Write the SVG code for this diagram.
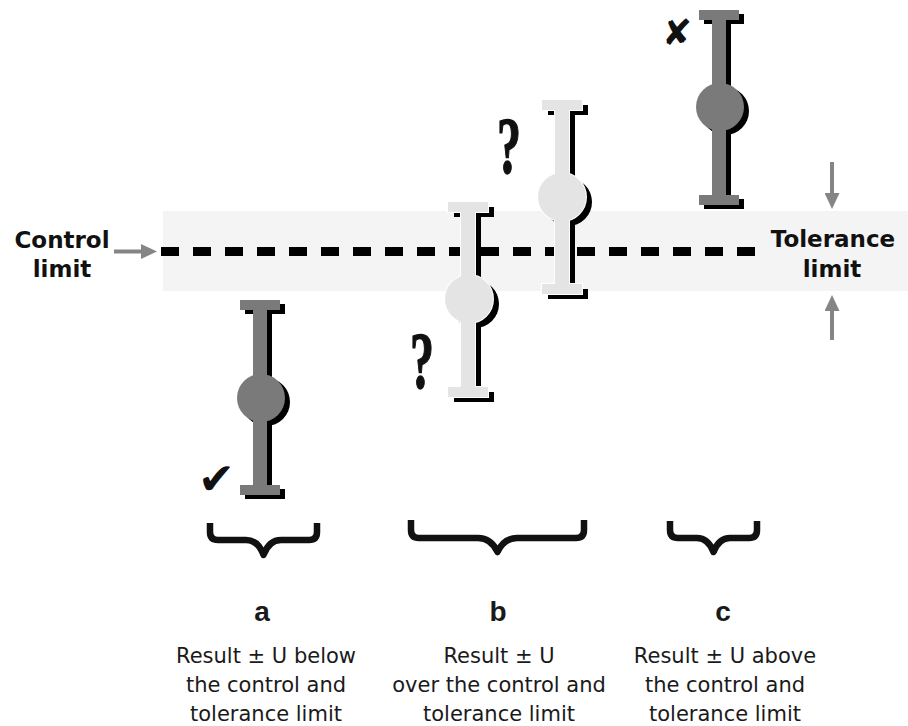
<svg xmlns="http://www.w3.org/2000/svg" xmlns:xlink="http://www.w3.org/1999/xlink" width="908" height="726" viewBox="0 0 908 726">
<style>
  .shadow { fill: #000; }
  .halo { fill: #fff; stroke: #fff; stroke-width: 2; }
  .dark { fill: #7a7a7a; }
  .light { fill: #e4e4e4; }
  .lbl { font-family: "DejaVu Sans", "Liberation Sans", sans-serif; font-weight: bold; font-size: 23px; fill: #111; text-anchor: middle; }
  .desc { font-family: "DejaVu Sans", "Liberation Sans", sans-serif; font-size: 21px; fill: #1a1a1a; text-anchor: middle; }
  .letter { font-family: "Liberation Sans", Arial, sans-serif; font-weight: bold; font-size: 28px; fill: #1a1a1a; text-anchor: middle; }
  .q { font-family: "Liberation Serif", "DejaVu Serif", serif; font-weight: bold; font-size: 80px; fill: #111; stroke: #111; stroke-width: 1.5; }
  .sym { font-family: "DejaVu Sans", sans-serif; fill: #111; }
  .arrow { stroke: #858585; stroke-width: 4; fill: none; marker-end: url(#ah); }
  .brace { stroke: #111; stroke-width: 6.5; fill: none; stroke-linejoin: round; }
</style>
<defs>
  <marker id="ah" markerUnits="userSpaceOnUse" viewBox="0 0 16 15" refX="6" refY="7.5" markerWidth="16" markerHeight="15" orient="auto">
    <path d="M0,0 L16,7.5 L0,15 z" fill="#858585"/>
  </marker>
  <g id="shapeA">
    <path d="M240,300 h40 v10 h-13 V485 h13 v10 h-40 v-10 h13 V310 h-13 z"/>
    <circle cx="261" cy="398" r="24"/>
  </g>
  <g id="shapeB1">
    <path d="M448,202 h40 v10 h-13 V387 h13 v10 h-40 v-10 h13 V212 h-13 z"/>
    <circle cx="469" cy="299" r="24"/>
  </g>
  <g id="shapeB2">
    <path d="M542,100 h40 v10 h-13 V284 h13 v10 h-40 v-10 h13 V110 h-13 z"/>
    <circle cx="562" cy="197" r="24"/>
  </g>
  <g id="shapeC">
    <path d="M699,10 h40 v10 h-13 V195 h13 v10 h-40 v-10 h13 V20 h-13 z"/>
    <circle cx="720" cy="107" r="24"/>
  </g>
</defs>

<rect width="908" height="726" fill="#fff"/>

<g id="band">
  <rect x="163" y="211" width="745" height="80" fill="#f4f4f4"/>
  <line x1="161" y1="251.5" x2="755" y2="251.5" stroke="#000" stroke-width="9" stroke-dasharray="18 14"/>
</g>

<g id="connectors">
  <line class="arrow" x1="114" y1="251.5" x2="147" y2="251.5"/>
  <line class="arrow" x1="832" y1="162" x2="832" y2="199"/>
  <line class="arrow" x1="832" y1="340" x2="832" y2="305"/>
</g>

<g id="control-limit">
  <text class="lbl" x="62" y="248">Control</text>
  <text class="lbl" x="62" y="277">limit</text>
</g>

<g id="tolerance-limit">
  <text class="lbl" x="833" y="247">Tolerance</text>
  <text class="lbl" x="832" y="277">limit</text>
</g>

<g id="bar-a">
  <use xlink:href="#shapeA" class="shadow" transform="translate(5,4)"/>
  <use xlink:href="#shapeA" class="dark"/>
  <text class="sym" x="198" y="494" font-size="44">✔</text>
</g>

<g id="bar-b1">
  <use xlink:href="#shapeB1" class="shadow" transform="translate(6,5)"/>
  <use xlink:href="#shapeB1" class="halo"/>
  <use xlink:href="#shapeB1" class="light"/>
  <text class="q" transform="translate(410,388) scale(0.6,1)">?</text>
</g>

<g id="bar-b2">
  <use xlink:href="#shapeB2" class="shadow" transform="translate(6,5)"/>
  <use xlink:href="#shapeB2" class="halo"/>
  <use xlink:href="#shapeB2" class="light"/>
  <text class="q" transform="translate(497,173) scale(0.6,1)">?</text>
</g>

<g id="bar-c">
  <use xlink:href="#shapeC" class="shadow" transform="translate(5,4)"/>
  <use xlink:href="#shapeC" class="dark"/>
  <text class="sym" x="662" y="45" font-size="36">✘</text>
</g>

<g id="group-a">
  <path class="brace" d="M210,523 V532 Q210,540 218,540 H246 Q258,540 263.5,555 Q269,540 281,540 H309 Q317,540 317,532 V523"/>
  <text class="letter" x="262" y="621">a</text>
  <text class="desc" x="266" y="663">Result ± U below</text>
  <text class="desc" x="266" y="692">the control and</text>
  <text class="desc" x="266" y="721">tolerance limit</text>
</g>

<g id="group-b">
  <path class="brace" d="M411,520 V530 Q411,538 419,538 H478 Q491,538 497.5,552 Q504,538 517,538 H576 Q584,538 584,530 V520"/>
  <text class="letter" x="498" y="621">b</text>
  <text class="desc" x="499" y="663">Result ± U</text>
  <text class="desc" x="499" y="692">over the control and</text>
  <text class="desc" x="499" y="721">tolerance limit</text>
</g>

<g id="group-c">
  <path class="brace" d="M670,521 V530 Q670,538 678,538 H697 Q708,538 713.5,552 Q719,538 730,538 H749 Q757,538 757,530 V521"/>
  <text class="letter" x="723" y="621">c</text>
  <text class="desc" x="725" y="663">Result ± U above</text>
  <text class="desc" x="725" y="692">the control and</text>
  <text class="desc" x="725" y="721">tolerance limit</text>
</g>
</svg>
